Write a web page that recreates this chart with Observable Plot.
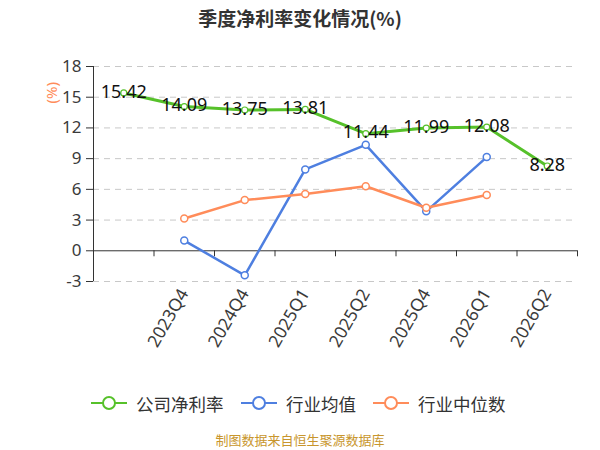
<!DOCTYPE html>
<html><head><meta charset="utf-8">
<script src="https://cdn.jsdelivr.net/npm/d3@7"></script>
<script src="https://cdn.jsdelivr.net/npm/@observablehq/plot@0.6"></script>
<style>
body{margin:0;width:600px;height:450px;background:#fff;font-family:"Noto Sans CJK SC","Noto Sans",sans-serif;overflow:hidden;position:relative}
#title{position:absolute;left:0;top:0;width:600px;height:35px;line-height:35px;text-align:center;font-size:19px;font-weight:bold;color:#333}
#chart{position:absolute;left:0;top:35px}
.item{position:absolute;top:391px;height:24px;display:flex;align-items:center;font-size:17.5px;color:#333}
.item svg{margin-right:9px}
#caption{position:absolute;left:0;top:430px;width:600px;text-align:center;font-size:13px;color:#c8962d}
</style>
</head><body>
<div id="title">季度净利率变化情况(%)</div>
<div id="chart"></div>
<div id="legend"></div>
<div id="caption">制图数据来自恒生聚源数据库</div>
<script>
const quarters = ["", "2023Q4", "2024Q4", "2025Q1", "2025Q2", "2025Q4", "2026Q1", "2026Q2"];
const netMargin = [15.42, 14.09, 13.75, 13.81, 11.44, 11.99, 12.08, 8.28];
const industryMean = [null, 1.0, -2.4, 7.95, 10.35, 3.85, 9.15, null];
const industryMedian = [null, 3.15, 4.95, 5.55, 6.3, 4.2, 5.45, null];
const yTicks = [-3, 0, 3, 6, 9, 12, 15, 18];
const seriesNames = ["公司净利率", "行业均值", "行业中位数"];
const colors = ["#56c12a", "#4e7fe0", "#ff8c5a"];

const rows = quarters.map((q, i) => ({i, x: i + 0.5, q, net: netMargin[i], mean: industryMean[i], median: industryMedian[i]}));
const meanRows = rows.filter(d => d.mean != null);
const medianRows = rows.filter(d => d.median != null);

const plot = Plot.plot({
  width: 600, height: 355,
  marginTop: 31, marginBottom: 109, marginLeft: 93, marginRight: 23,
  style: {fontFamily: '"Noto Sans","Noto Sans CJK SC",sans-serif', fontSize: "17px", color: "#333", background: "white", overflow: "visible"},
  x: {type: "linear", domain: [0, quarters.length], axis: null},
  y: {domain: [-3, 18], axis: null},
  marks: [
    Plot.ruleY(yTicks.filter(t => t !== 0), {stroke: "#c8c8c8", strokeDasharray: "6,5", strokeWidth: 1}),
    Plot.axisY({ticks: yTicks, tickFormat: d => String(d), tickSize: 7, tickPadding: 5, fontSize: 17, label: null, stroke: "#333", fill: "#3a3a3a"}),
    Plot.ruleX([0], {stroke: "#333", strokeWidth: 1}),
    Plot.ruleY([0], {stroke: "#333", strokeWidth: 1}),
    Plot.ruleX(d3.range(1, quarters.length + 1), {y1: 0, y2: 0, insetBottom: -6, stroke: "#333"}),
    Plot.axisX({ticks: rows.map(d => d.x), tickFormat: d => quarters[Math.floor(d)], tickSize: 0, tickRotate: -60, tickPadding: 9, fontSize: 17.5, label: null, fill: "#3a3a3a"}),
    Plot.text(["(%)"], {frameAnchor: "top-left", dx: -47, dy: 37, rotate: -90, fill: "#ff8c5a", fontSize: 15}),
    Plot.line(rows, {x: "x", y: "net", stroke: colors[0], strokeWidth: 3, strokeLinejoin: "round"}),
    Plot.dot(rows, {x: "x", y: "net", r: 3, fill: "white", stroke: colors[0], strokeWidth: 1.2}),
    Plot.line(meanRows, {x: "x", y: "mean", stroke: colors[1], strokeWidth: 2.5}),
    Plot.dot(meanRows, {x: "x", y: "mean", r: 3.5, fill: "white", stroke: colors[1], strokeWidth: 1.5}),
    Plot.line(medianRows, {x: "x", y: "median", stroke: colors[2], strokeWidth: 2.5}),
    Plot.dot(medianRows, {x: "x", y: "median", r: 3.5, fill: "white", stroke: colors[2], strokeWidth: 1.5}),
    Plot.text(rows, {x: "x", y: "net", text: d => d.net.toFixed(2), fontSize: 18, fill: "#111", dy: -1})
  ]
});
document.getElementById("chart").appendChild(plot);

const lefts = [91, 241, 373];
const legend = document.getElementById("legend");
seriesNames.forEach((name, k) => {
  const div = document.createElement("div");
  div.className = "item";
  div.style.left = lefts[k] + "px";
  div.innerHTML = `<svg width="36" height="16"><line x1="0" y1="8" x2="36" y2="8" stroke="${colors[k]}" stroke-width="2"/><circle cx="18" cy="8" r="6" fill="white" stroke="${colors[k]}" stroke-width="2"/></svg><span>${name}</span>`;
  legend.appendChild(div);
});
</script>
</body></html>
